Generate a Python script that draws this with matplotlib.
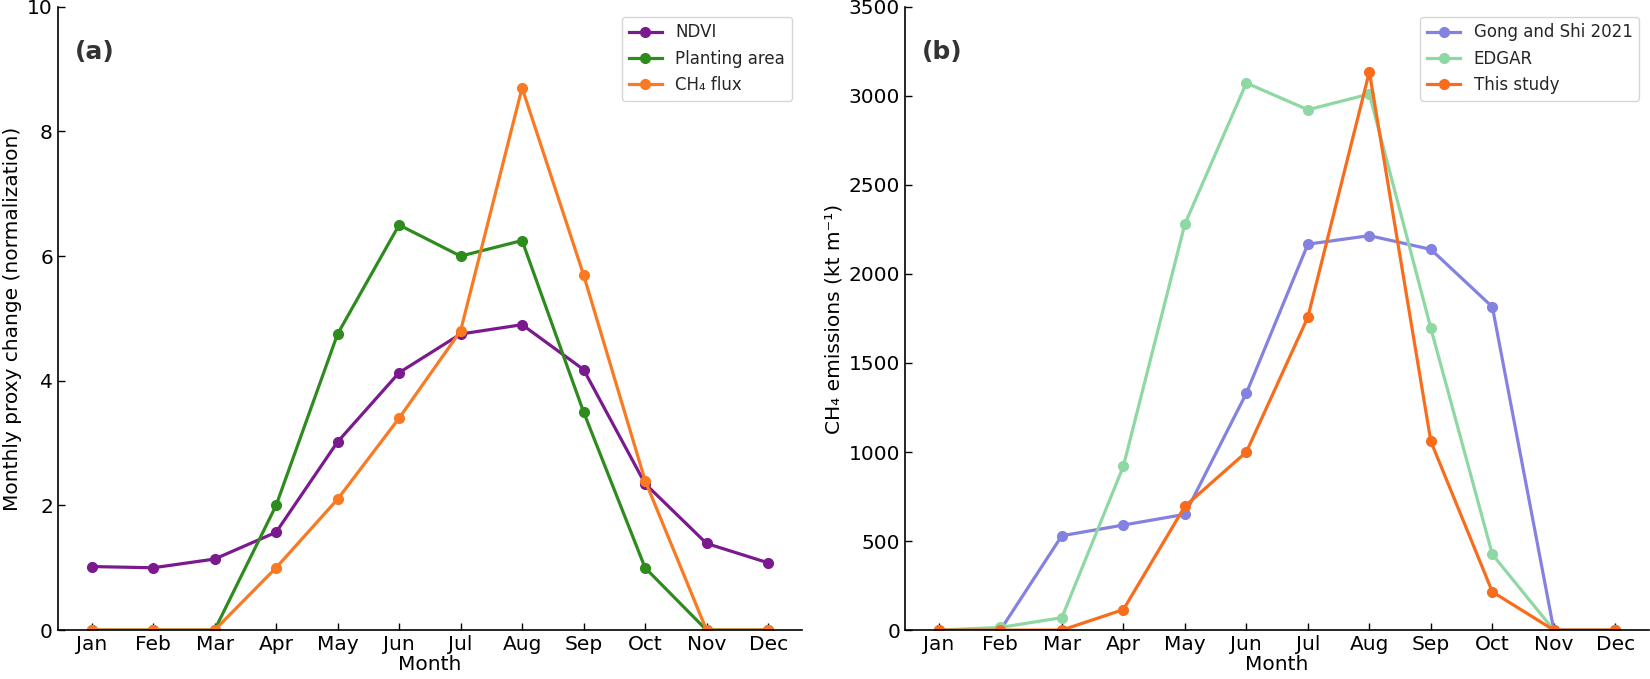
import numpy as np
import matplotlib
matplotlib.use('Agg')
import matplotlib.pyplot as plt

# Month labels
months = ['Jan', 'Feb', 'Mar', 'Apr', 'May', 'Jun', 'Jul', 'Aug', 'Sep', 'Oct', 'Nov', 'Dec']

# Panel (a): normalized monthly proxies
ndvi = [1.02, 1.0, 1.14, 1.57, 3.02, 4.13, 4.75, 4.9, 4.18, 2.35, 1.39, 1.08]
planting_area = [0, 0, 0, 2.0, 4.75, 6.5, 6.0, 6.25, 3.5, 1.0, 0, 0]
ch4_flux = [0, 0, 0, 1.0, 2.1, 3.4, 4.8, 8.7, 5.7, 2.4, 0, 0]

# Panel (b): monthly CH4 emissions
gong_shi = [0, 0, 530, 590, 650, 1330, 2167, 2215, 2138, 1815, 0, 0]
edgar = [0, 15, 70, 920, 2280, 3072, 2922, 3010, 1695, 425, 0, 0]
this_study = [0, 0, 0, 115, 695, 1000, 1757, 3135, 1060, 215, 0, 0]

x = np.arange(len(months))

fig = plt.figure(figsize=(16.5, 6.79), dpi=100)
ax1 = fig.add_axes([0.035, 0.072, 0.451, 0.918])
ax2 = fig.add_axes([0.5485, 0.072, 0.451, 0.918])

lw = 2.3
ms = 7

ax1.plot(x, ndvi, '-o', color='#7b1a8e', lw=lw, ms=ms, label='NDVI')
ax1.plot(x, planting_area, '-o', color='#2e8b1e', lw=lw, ms=ms, label='Planting area')
ax1.plot(x, ch4_flux, '-o', color='#f97a22', lw=lw, ms=ms, label='CH₄ flux')
ax1.set_ylim(0, 10)
ax1.set_ylabel('Monthly proxy change (normalization)', fontsize=14.5)

ax2.plot(x, gong_shi, '-o', color='#8482e0', lw=lw, ms=ms, label='Gong and Shi 2021')
ax2.plot(x, edgar, '-o', color='#8ed8a4', lw=lw, ms=ms, label='EDGAR')
ax2.plot(x, this_study, '-o', color='#f86c1c', lw=lw, ms=ms, label='This study')
ax2.set_ylim(0, 3500)
ax2.set_ylabel('CH₄ emissions (kt m⁻¹)', fontsize=14.5)

for ax, tag in [(ax1, '(a)'), (ax2, '(b)')]:
    ax.set_xticks(x)
    ax.set_xticklabels(months)
    ax.set_xlabel('Month', fontsize=14.5, labelpad=1)
    ax.tick_params(direction='in', labelsize=14.5, length=5, width=1)
    ax.spines['top'].set_visible(False)
    ax.spines['right'].set_visible(False)
    for s in ['left', 'bottom']:
        ax.spines[s].set_linewidth(1.2)
    ax.text(0.023, 0.928, tag, transform=ax.transAxes, fontsize=18,
            fontweight='bold', color='#333333', va='center')
    leg = ax.legend(loc='upper right', fontsize=12, frameon=True,
                    borderaxespad=0.6)
    for t in leg.get_texts():
        t.set_color('#262626')

fig.savefig('out.png', dpi=100)
